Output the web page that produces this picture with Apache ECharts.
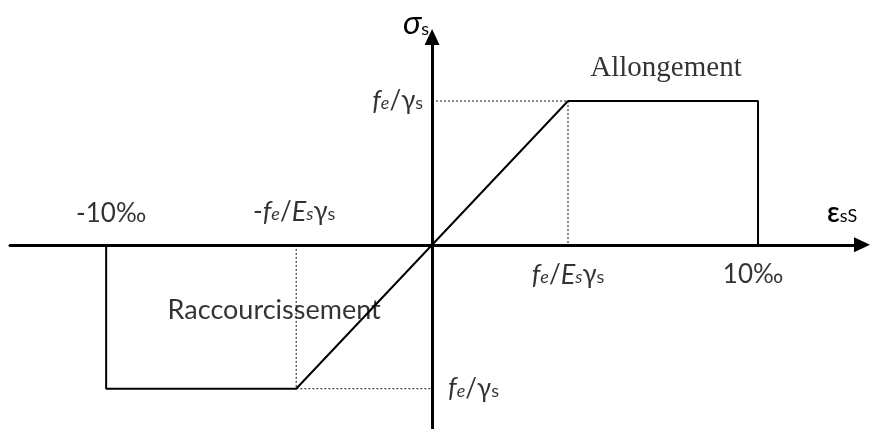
<!DOCTYPE html>
<html>
<head>
<meta charset="utf-8">
<script src="https://cdn.jsdelivr.net/npm/echarts@6/dist/echarts.min.js"></script>
<style>
  html, body { margin: 0; padding: 0; background: #fff; }
  #chart { width: 870px; height: 429px; }
</style>
</head>
<body>
<div id="chart"></div>
<script>
// Idealised steel stress–strain law: strain in ‰, stress in units of fe/γs
const limitStrain = 10;      // 10‰ elongation / shortening limit
const yieldStrain = 4.17;    // fe/(Es·γs) as sketched
const yieldStress = 1;       // fe/γs

// Elastic-plastic branch (compression plateau -> elastic line -> tension plateau)
const curveStrain = [-limitStrain, -limitStrain, -yieldStrain, yieldStrain, limitStrain, limitStrain];
const curveStress = [0, -yieldStress, -yieldStress, yieldStress, yieldStress, 0];

// Dotted guides to the axes at the yield points
const guideTopStrain = [0, yieldStrain, yieldStrain];
const guideTopStress = [yieldStress, yieldStress, 0];
const guideBottomStrain = [-yieldStrain, -yieldStrain, 0];
const guideBottomStress = [0, -yieldStress, -yieldStress];

// Strain marks along the horizontal axis
const tickStrain = [-limitStrain, -yieldStrain, yieldStrain, limitStrain];
const tickText = [
  '{t|-10‰}',
  '{t|-}{fi|f}{ei|e}{t|/}{fi|E}{si|s}{g|γ}{s|s}',
  '{fi|f}{ei|e}{t|/}{fi|E}{si|s}{g|γ}{s|s}',
  '{t|10‰}'
];
const stressText = '{fi|f}{ei|e}{t|/}{g|γ}{s|s}';
const zoneText = ['Allongement', 'Raccourcissement'];
const axisNames = { strain: '{eps|ε}{s|sS}', stress: '{sig|σ}{s|s}' };

const SANS = 'Lato, "Open Sans", "Noto Sans", sans-serif';
const rich = {
  t:   { fontFamily: SANS, fontSize: 26, color: '#000' },
  fi:  { fontFamily: SANS, fontSize: 27, fontStyle: 'italic', color: '#000' },
  ei:  { fontFamily: SANS, fontSize: 18, fontStyle: 'italic', color: '#000', verticalAlign: 'bottom', padding: [0, 0, 2, 0] },
  si:  { fontFamily: SANS, fontSize: 18, fontStyle: 'italic', color: '#000', verticalAlign: 'bottom', padding: [0, 0, 2, 0] },
  g:   { fontFamily: SANS, fontSize: 26, color: '#000' },
  s:   { fontFamily: SANS, fontSize: 18, color: '#000', verticalAlign: 'bottom', padding: [0, 0, 2, 0] },
  eps: { fontFamily: SANS, fontSize: 28, fontWeight: 600, color: '#000' },
  sig: { fontFamily: SANS, fontSize: 33, fontStyle: 'italic', color: '#000' },
  serif: { fontFamily: '"Liberation Serif", "Times New Roman", serif', fontSize: 29, color: '#000' },
  sans:  { fontFamily: SANS, fontSize: 27, color: '#000' }
};

const zip = (xs, ys) => xs.map((x, i) => [x, ys[i]]);

// Annotation anchors on the curve with their label placement
const labelOffsets = [[5, -31], [-2, -33], [0, 30], [-5, 30]];
const annotations = tickStrain.map((x, i) => ({
  value: [x, 0],
  label: { formatter: tickText[i], offset: labelOffsets[i] }
}));
annotations.push(
  { value: [0, yieldStress], label: { formatter: stressText, align: 'right', offset: [-9, 0] } },
  { value: [0, -yieldStress], label: { formatter: stressText, align: 'left', offset: [16, 0] } },
  { value: [(yieldStrain + limitStrain) / 2, yieldStress], label: { formatter: '{serif|' + zoneText[0] + '}', offset: [3, -33] } },
  { value: [-yieldStrain, -yieldStress], label: { formatter: '{sans|' + zoneText[1] + '}', offset: [-22, -78] } }
);

const axisLineStyle = { color: '#000', width: 3 };

const chart = echarts.init(document.getElementById('chart'), null, { renderer: 'canvas' });
chart.setOption({
  animation: false,
  backgroundColor: '#fff',
  grid: { left: 10, right: 8, top: 37, bottom: 0, containLabel: false },
  xAxis: {
    type: 'value', min: -12.95, max: 13.19,
    name: axisNames.strain, nameLocation: 'end', nameGap: -35,
    nameTextStyle: { rich: rich, align: 'left', verticalAlign: 'bottom', padding: [0, 0, 18, 0] },
    axisLine: { show: true, onZero: true, symbol: ['none', 'triangle'], symbolSize: [15, 16], lineStyle: axisLineStyle },
    axisTick: { show: false }, axisLabel: { show: false }, splitLine: { show: false }
  },
  yAxis: {
    type: 'value', min: -1.28, max: 1.445,
    name: axisNames.stress, nameLocation: 'end', nameGap: -3,
    nameTextStyle: { rich: rich, align: 'right', padding: [0, 3, 0, 0] },
    axisLine: { show: true, onZero: true, symbol: ['none', 'triangle'], symbolSize: [15, 16], lineStyle: axisLineStyle },
    axisTick: { show: false }, axisLabel: { show: false }, splitLine: { show: false }
  },
  series: [
    {
      type: 'line', data: zip(guideTopStrain, guideTopStress), symbol: 'none', silent: true,
      lineStyle: { color: '#111', width: 1, type: [2, 2] }
    },
    {
      type: 'line', data: zip(guideBottomStrain, guideBottomStress), symbol: 'none', silent: true,
      lineStyle: { color: '#111', width: 1, type: [2, 2] }
    },
    {
      type: 'line', data: zip(curveStrain, curveStress), symbol: 'none', silent: true,
      lineStyle: { color: '#000', width: 2 }, z: 3
    },
    {
      type: 'scatter', data: annotations, symbolSize: 0, silent: true, z: 4,
      label: { show: true, position: 'inside', rich: rich }
    }
  ]
});
</script>
</body>
</html>
